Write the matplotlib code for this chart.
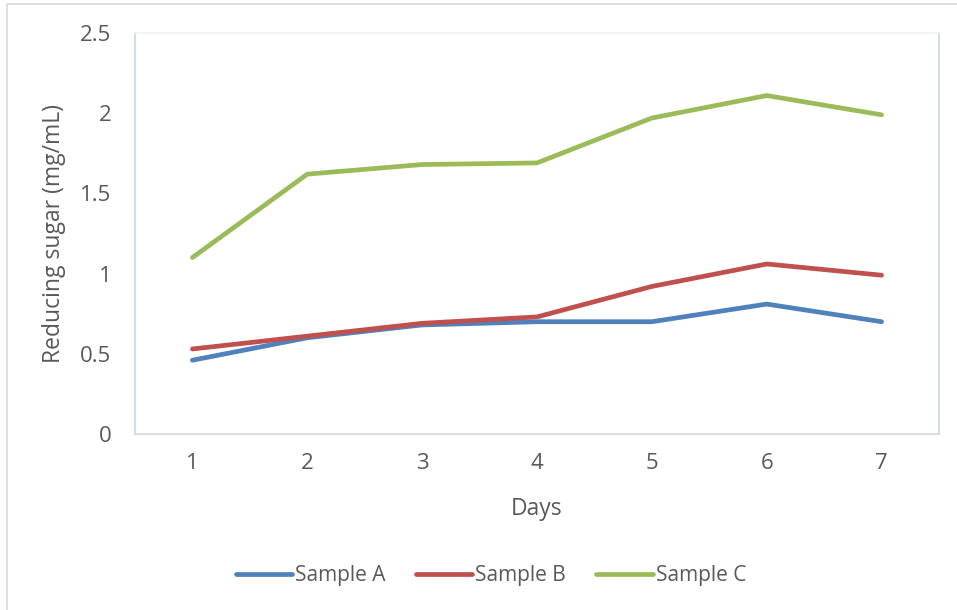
import matplotlib
matplotlib.use("Agg")
import matplotlib.pyplot as plt
from matplotlib.patches import Rectangle

days = [1, 2, 3, 4, 5, 6, 7]
sample_a = [0.46, 0.60, 0.68, 0.70, 0.70, 0.81, 0.70]
sample_b = [0.53, 0.61, 0.69, 0.73, 0.92, 1.06, 0.99]
sample_c = [1.10, 1.62, 1.68, 1.69, 1.97, 2.11, 1.99]
series_names = ["Sample A", "Sample B", "Sample C"]
colors = ["#4F81BD", "#C0504D", "#9BBB59"]
yticks = [0, 0.5, 1, 1.5, 2, 2.5]
ytick_labels = ["0", "0.5", "1", "1.5", "2", "2.5"]

plt.rcParams['font.family'] = ['Open Sans', 'DejaVu Sans']
txt = "#595959"

fig = plt.figure(figsize=(9.57, 6.10), dpi=100)
W, H = 957, 610
ax = fig.add_axes([135 / W, 1 - 434 / H, (939 - 135) / W, (434 - 33) / H])

for name, vals, c in zip(series_names, [sample_a, sample_b, sample_c], colors):
    ax.plot(days, vals, color=c, lw=3.4, solid_capstyle='round', solid_joinstyle='round', label=name)

ax.set_xlim(0.5, 7.5)
ax.set_ylim(0, 2.5)
ax.set_yticks(yticks)
ax.set_yticklabels(ytick_labels)
ax.set_xticks(days)
ax.set_xticklabels([str(d) for d in days])
ax.tick_params(axis='both', length=0, labelsize=16, colors=txt)
ax.tick_params(axis='y', pad=17)
ax.tick_params(axis='x', pad=14)

ax.spines['left'].set_color('#C9D6EA')
ax.spines['right'].set_color('#C9D6EA')
ax.spines['top'].set_color('#EEF2F8')
ax.spines['bottom'].set_color('#D9D9D9')
for s in ax.spines.values():
    s.set_linewidth(1.2)

ax.set_xlabel("Days", fontsize=16.5, color=txt, labelpad=16)
ax.set_ylabel("Reducing sugar (mg/mL)", fontsize=16.5, color=txt, labelpad=10)

leg = fig.legend(loc='center', bbox_to_anchor=(491 / W, 1 - 576 / H), ncol=3, frameon=False,
                 fontsize=15, handlelength=2.7, handletextpad=0.15, columnspacing=1.45)
for t in leg.get_texts():
    t.set_color(txt)

# outer chart border (top and left visible)
fig.add_artist(Rectangle((7 / W, -0.1), 1.2, 1 - 4 / H + 0.1, transform=fig.transFigure,
                         fill=False, edgecolor='#D9D9D9', lw=1.2))

fig.savefig("out.png", dpi=100)
